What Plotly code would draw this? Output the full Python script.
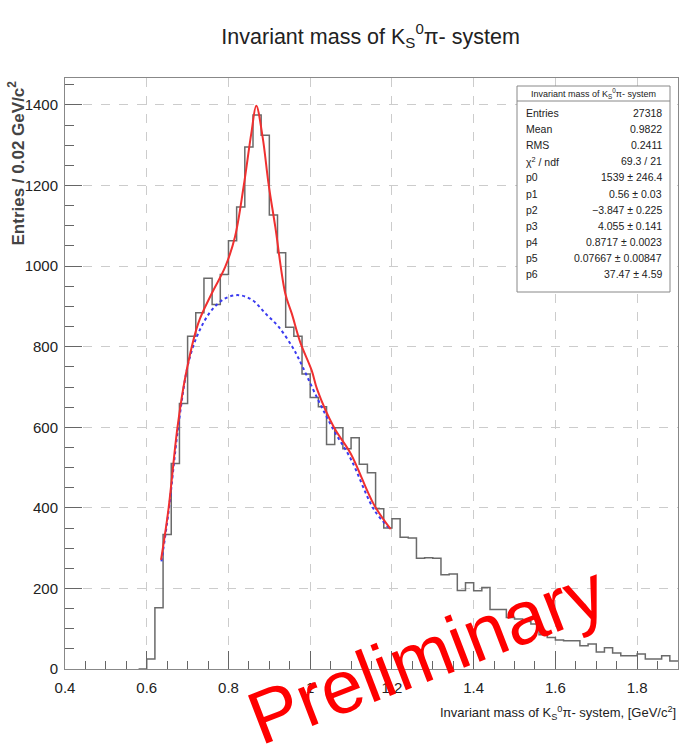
import plotly.graph_objects as go

# ---------------- data ----------------
bin_low_edges = [0.58, 0.60, 0.62, 0.64, 0.66, 0.68, 0.70, 0.72, 0.74, 0.76, 0.78,
                 0.80, 0.82, 0.84, 0.86, 0.88, 0.90, 0.92, 0.94, 0.96, 0.98,
                 1.00, 1.02, 1.04, 1.06, 1.08, 1.10, 1.12, 1.14, 1.16, 1.18,
                 1.20, 1.22, 1.24, 1.26, 1.28, 1.30, 1.32, 1.34, 1.36, 1.38,
                 1.40, 1.42, 1.44, 1.46, 1.48, 1.50, 1.52, 1.54, 1.56, 1.58,
                 1.60, 1.62, 1.64, 1.66, 1.68, 1.70, 1.72, 1.74, 1.76, 1.78,
                 1.80, 1.82, 1.84, 1.86, 1.88]
bin_counts = [0, 25, 152, 334, 510, 659, 826, 884, 970, 905, 979,
              1063, 1147, 1296, 1375, 1325, 1127, 1033, 848, 826, 732,
              674, 651, 557, 599, 547, 574, 508, 487, 398, 350,
              373, 327, 325, 275, 276, 275, 234, 236, 195, 214,
              194, 202, 148, 148, 128, 124, 118, 112, 85, 78,
              72, 70, 70, 58, 62, 42, 53, 40, 33, 33,
              37, 25, 25, 33, 20]
bin_width = 0.02

fit_total_x = [0.635, 0.653, 0.675, 0.695, 0.726, 0.759, 0.792, 0.816, 0.837, 0.856,
               0.868, 0.8835, 0.898, 0.9145, 0.939, 0.955, 0.976, 1.004, 1.017,
               1.058, 1.099, 1.156, 1.197]
fit_total_y = [271, 395, 598, 728, 858, 932, 998, 1073, 1197, 1330,
               1398, 1321, 1205, 1098, 932, 882, 810, 740, 694,
               600, 535, 408, 347]

fit_bkg_x = [0.636, 0.653, 0.677, 0.702, 0.726, 0.759, 0.792, 0.825, 0.858, 0.891,
             0.923, 0.956, 0.972, 1.017, 1.058, 1.099, 1.156, 1.195]
fit_bkg_y = [267, 387, 600, 760, 833, 891, 920, 928, 916, 882,
             849, 800, 770, 673, 592, 522, 396, 348]

x_ticks = [0.4, 0.6, 0.8, 1.0, 1.2, 1.4, 1.6, 1.8]
x_tick_labels = ["0.4", "0.6", "0.8", "1", "1.2", "1.4", "1.6", "1.8"]
y_ticks = [0, 200, 400, 600, 800, 1000, 1200, 1400]

stat_labels = ["Entries", "Mean", "RMS", "χ<sup>2</sup> / ndf", "p0", "p1", "p2",
               "p3", "p4", "p5", "p6"]
stat_values = ["27318", "0.9822", "0.2411", "69.3 / 21", "1539 ± 246.4",
               "0.56 ± 0.03", "−3.847 ± 0.225", "4.055 ± 0.141",
               "0.8717 ± 0.0023", "0.07667 ± 0.00847", "37.47 ± 4.59"]

# ---------------- layout constants ----------------
W, H = 680, 747
ML, MR, MT, MB = 65, 2, 78, 78
PW, PH = W - ML - MR, H - MT - MB
NARROW = "Liberation Sans Narrow, Arial Narrow, Liberation Sans, Arial, sans-serif"
SANS = "Liberation Sans, Arial, sans-serif"


def px(X):
    return (X - ML) / PW


def py(Y):
    return (H - MB - Y) / PH


# step histogram
hx = list(bin_low_edges) + [bin_low_edges[-1] + bin_width]
hy = list(bin_counts) + [bin_counts[-1]]

fig = go.Figure()
fig.add_trace(go.Scatter(x=hx, y=hy, mode="lines", line=dict(shape="hv", color="#6a6a6a", width=1.5),
                         showlegend=False, hoverinfo="skip"))
fig.add_trace(go.Scatter(x=fit_bkg_x, y=fit_bkg_y, mode="lines",
                         line=dict(shape="spline", color="#3a3af0", width=2, dash="dot"),
                         showlegend=False))
fig.add_trace(go.Scatter(x=fit_total_x, y=fit_total_y, mode="lines",
                         line=dict(shape="spline", color="#f03030", width=2),
                         showlegend=False))

fig.update_layout(
    width=W, height=H,
    margin=dict(l=ML, r=MR, t=MT, b=MB),
    paper_bgcolor="white", plot_bgcolor="white",
    showlegend=False,
    font=dict(family=NARROW, color="#222"),
    title=dict(text="Invariant mass of K<sub>S</sub><sup>0</sup>π- system",
               x=0.545, xanchor="center", y=1 - 36 / H, yanchor="middle",
               font=dict(family=NARROW, size=21.5, color="#222")),
)

fig.update_xaxes(
    range=[0.4, 1.9], tickvals=x_ticks, ticktext=x_tick_labels,
    ticks="inside", ticklen=18, tickcolor="#666", tickwidth=1,
    minor=dict(dtick=0.05, ticks="inside", ticklen=8, tickcolor="#666", showgrid=False),
    showgrid=True, gridcolor="#cccccc", griddash="dash", gridwidth=1,
    showline=True, mirror=True, linecolor="#888", linewidth=1,
    zeroline=False, tickfont=dict(family=NARROW, size=15, color="#222"),
    ticklabelstandoff=5,
)
fig.update_yaxes(
    range=[0, 1467], tickvals=y_ticks,
    ticks="inside", ticklen=17, tickcolor="#666", tickwidth=1,
    minor=dict(dtick=50, ticks="inside", ticklen=9, tickcolor="#666", showgrid=False),
    showgrid=True, gridcolor="#cccccc", griddash="dash", gridwidth=1,
    showline=True, mirror=True, linecolor="#888", linewidth=1,
    zeroline=False, tickfont=dict(family=NARROW, size=15, color="#222"),
    ticklabelstandoff=3,
)

ann = []
# axis titles
ann.append(dict(text="<b>Entries / 0.02 GeV/c<sup>2</sup></b>", textangle=-90,
                xref="paper", yref="paper", x=px(16), y=py(79),
                xanchor="center", yanchor="top", showarrow=False,
                font=dict(family=SANS, size=17, color="#444")))
ann.append(dict(text="Invariant mass of K<sub>S</sub><sup>0</sup>π- system, [GeV/c<sup>2</sup>]",
                xref="paper", yref="paper", x=px(678), y=py(713),
                xanchor="right", yanchor="middle", showarrow=False,
                font=dict(family=NARROW, size=13, color="#222")))

# stats box
shapes = [
    dict(type="rect", xref="paper", yref="paper", x0=px(517), x1=px(670), y0=py(292), y1=py(86),
         line=dict(color="#888", width=1), fillcolor="white", layer="above"),
    dict(type="line", xref="paper", yref="paper", x0=px(517), x1=px(670), y0=py(101), y1=py(101),
         line=dict(color="#888", width=1), layer="above"),
]
ann.append(dict(text="Invariant mass of K<sub>S</sub><sup>0</sup>π- system",
                xref="paper", yref="paper", x=px(593), y=py(93.5),
                xanchor="center", yanchor="middle", showarrow=False,
                font=dict(family=NARROW, size=9, color="#222")))
row_y0, row_dy = 113, 16.1
for i, (lab, val) in enumerate(zip(stat_labels, stat_values)):
    Y = row_y0 + i * row_dy
    ann.append(dict(text=lab, xref="paper", yref="paper", x=px(524), y=py(Y),
                    xanchor="left", yanchor="middle", showarrow=False,
                    font=dict(family=NARROW, size=10.5, color="#222")))
    ann.append(dict(text=val, xref="paper", yref="paper", x=px(664), y=py(Y),
                    xanchor="right", yanchor="middle", showarrow=False,
                    font=dict(family=NARROW, size=10.5, color="#222")))

# Preliminary stamp
ann.append(dict(text="Preliminary", xref="paper", yref="paper", x=px(427), y=py(654),
                xanchor="center", yanchor="middle", textangle=-21, showarrow=False,
                font=dict(family=SANS, size=75, color="#ff0000")))

fig.update_layout(annotations=ann, shapes=shapes)
fig.write_html("out.html")
